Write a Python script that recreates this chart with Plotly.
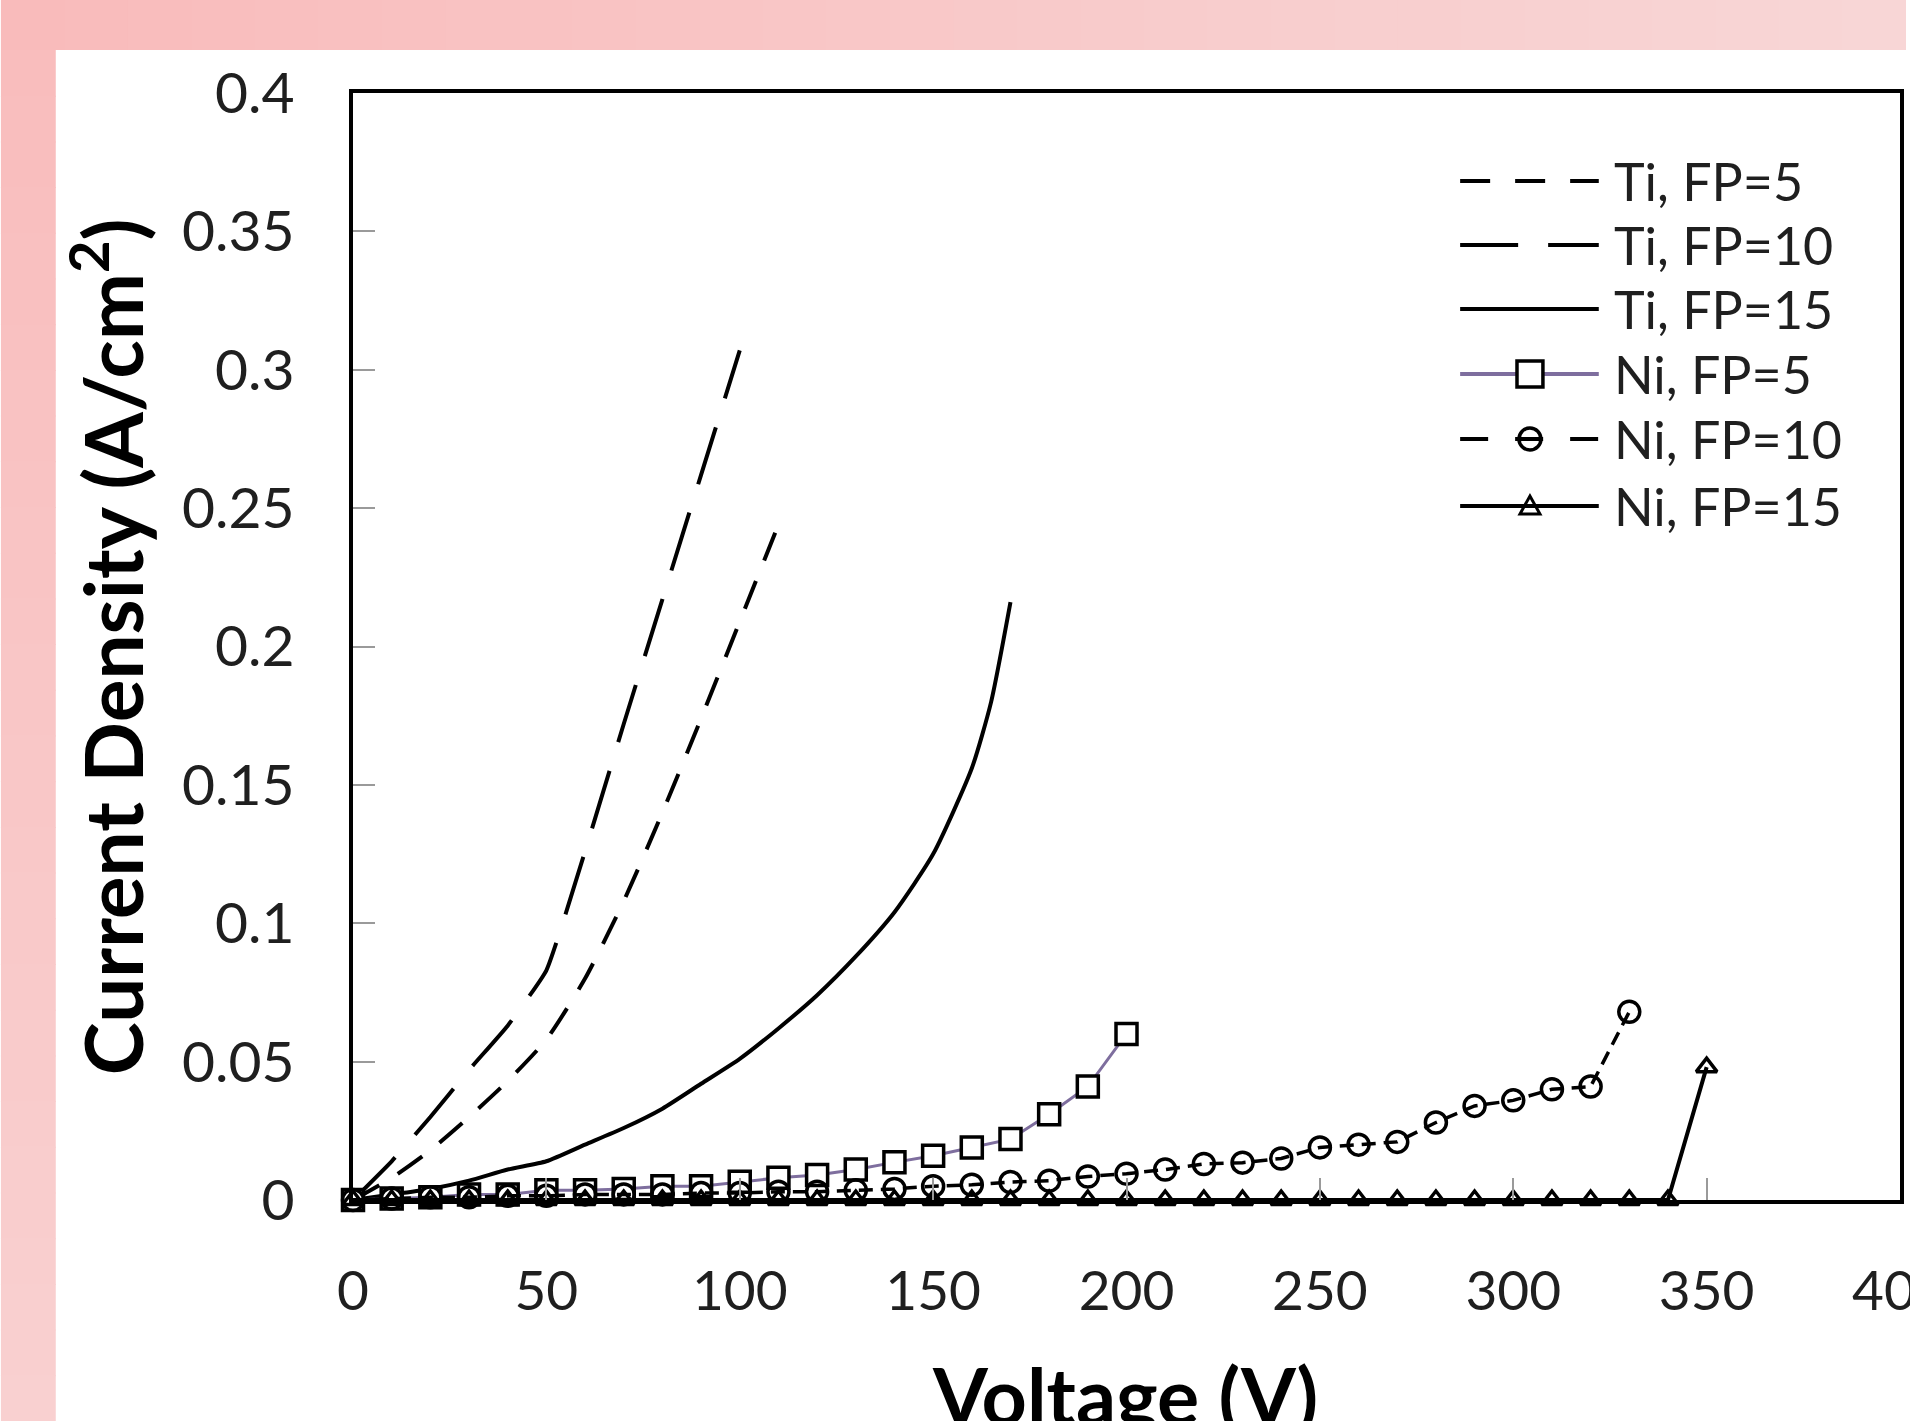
import plotly.graph_objects as go

W, H = 1910, 1421
ML, MR, MT, MB = 353, 6, 93, 221
PW = W - ML - MR
PH = H - MT - MB


def px(x):
    return (x - ML) / PW


def py(y):
    return (H - MB - y) / PH


# ---------------- data ----------------
ti5_v = [0, 10, 20, 30, 40, 50, 60, 70, 80, 90, 100, 110]
ti5_j = [0, 0.008, 0.018, 0.030, 0.043, 0.058, 0.080, 0.108, 0.140, 0.174, 0.209, 0.244]

ti10_v = [0, 10, 20, 30, 40, 50, 60, 70, 80, 90, 100]
ti10_j = [0, 0.014, 0.030, 0.047, 0.063, 0.083, 0.126, 0.172, 0.217, 0.262, 0.307]

ti15_v = [0, 10, 20, 30, 40, 50, 60, 70, 80, 90, 100, 110, 120, 130, 140, 150, 160, 165, 170]
ti15_j = [0, 0.002, 0.004, 0.007, 0.011, 0.014, 0.020, 0.026, 0.033, 0.042, 0.051,
          0.062, 0.074, 0.088, 0.104, 0.125, 0.156, 0.180, 0.216]

ni5_v = [0, 10, 20, 30, 40, 50, 60, 70, 80, 90, 100, 110, 120, 130, 140, 150, 160,
         170, 180, 190, 200]
ni5_j = [0, 0.0005, 0.001, 0.002, 0.002, 0.0035, 0.0035, 0.004, 0.005, 0.005, 0.0066,
         0.008, 0.009, 0.011, 0.0136, 0.016, 0.019, 0.022, 0.031, 0.041, 0.060]

ni10_v = [0, 10, 20, 30, 40, 50, 60, 70, 80, 90, 100, 110, 120, 130, 140, 150, 160,
          170, 180, 190, 200, 210, 220, 230, 240, 250, 260, 270, 280, 290, 300, 310,
          320, 330]
ni10_j = [0, 0.0005, 0.001, 0.001, 0.0015, 0.0015, 0.002, 0.002, 0.002, 0.0025, 0.0025,
          0.003, 0.003, 0.0035, 0.004, 0.005, 0.0055, 0.0065, 0.007, 0.0085, 0.0095,
          0.011, 0.013, 0.0135, 0.015, 0.019, 0.020, 0.021, 0.028, 0.034, 0.036, 0.040,
          0.041, 0.068]

ni15_v = [0, 10, 20, 30, 40, 50, 60, 70, 80, 90, 100, 110, 120, 130, 140, 150, 160,
          170, 180, 190, 200, 210, 220, 230, 240, 250, 260, 270, 280, 290, 300, 310,
          320, 330, 340, 350]
ni15_j = [0] * 35 + [0.048]

series_names = ["Ti, FP=5", "Ti, FP=10", "Ti, FP=15", "Ni, FP=5", "Ni, FP=10", "Ni, FP=15"]

x_ticks = [0, 50, 100, 150, 200, 250, 300, 350, 400]
y_ticks = [0, 0.05, 0.1, 0.15, 0.2, 0.25, 0.3, 0.35, 0.4]

# ---------------- styles ----------------
FONT = "Lato"
TXT = "#1f1f1f"
PURPLE = "#7E6E9E"
LW = 4
XTICK_SIZE = 55

fig = go.Figure()

fig.add_trace(go.Scatter(x=ti5_v, y=ti5_j, mode="lines", name=series_names[0],
                         line=dict(color="black", width=LW, dash="30px,22px",
                                   shape="spline", smoothing=0.6)))
fig.add_trace(go.Scatter(x=ti10_v, y=ti10_j, mode="lines", name=series_names[1],
                         line=dict(color="black", width=LW, dash="60px,30px",
                                   shape="spline", smoothing=0.4)))
fig.add_trace(go.Scatter(x=ti15_v, y=ti15_j, mode="lines", name=series_names[2],
                         line=dict(color="black", width=LW, shape="spline", smoothing=0.6)))
fig.add_trace(go.Scatter(x=ni5_v, y=ni5_j, mode="lines+markers", name=series_names[3],
                         cliponaxis=False,
                         line=dict(color=PURPLE, width=3),
                         marker=dict(symbol="square", size=21, color="white",
                                     line=dict(color="black", width=3.5))))
fig.add_trace(go.Scatter(x=ni10_v, y=ni10_j, mode="lines+markers", name=series_names[4],
                         cliponaxis=False,
                         line=dict(color="black", width=3.5, dash="14px,8px"),
                         marker=dict(symbol="circle-open", size=21, color="black",
                                     line=dict(color="black", width=3.5))))
fig.add_trace(go.Scatter(x=ni15_v, y=ni15_j, mode="lines+markers", name=series_names[5],
                         cliponaxis=False,
                         line=dict(color="black", width=LW),
                         marker=dict(symbol="triangle-up-open", size=18, color="black",
                                     line=dict(color="black", width=3.5))))

# ---------------- background (pink slide frame) ----------------
shapes = []


def lerp_color(c1, c2, t):
    a = [int(c1[i:i + 2], 16) for i in (1, 3, 5)]
    b = [int(c2[i:i + 2], 16) for i in (1, 3, 5)]
    return "#" + "".join(f"{round(a[k] + (b[k] - a[k]) * t):02x}" for k in range(3))


N = 30
for i in range(N):
    x0 = W * i / N
    x1 = min(W, W * (i + 1) / N + 1)
    shapes.append(dict(type="rect", xref="paper", yref="paper", layer="below",
                       x0=px(x0), x1=px(x1), y0=py(0), y1=py(50),
                       fillcolor=lerp_color("#F9BBBB", "#F8D6D6", i / (N - 1)),
                       line=dict(width=0)))
for i in range(N):
    y0 = 50 + (H - 50) * i / N
    y1 = min(H, 50 + (H - 50) * (i + 1) / N + 1)
    shapes.append(dict(type="rect", xref="paper", yref="paper", layer="below",
                       x0=px(0), x1=px(55), y0=py(y0), y1=py(y1),
                       fillcolor=lerp_color("#F9BDBD", "#F9D0D0", i / (N - 1)),
                       line=dict(width=0)))

# ---------------- custom legend ----------------
annotations = []
row_y = [181, 245, 309, 374, 439, 506]
lx0, lx1, ltx = 1463, 1602, 1615
leg_styles = [
    dict(color="black", width=LW, dash="30px,25px"),
    dict(color="black", width=LW, dash="58px,30px"),
    dict(color="black", width=LW, dash="solid"),
    dict(color=PURPLE, width=LW, dash="solid"),
    dict(color="black", width=LW, dash="28px,27px"),
    dict(color="black", width=LW, dash="solid"),
]
for i, name in enumerate(series_names):
    yy = py(row_y[i])
    shapes.append(dict(type="line", xref="paper", yref="paper", x0=px(lx0), x1=px(lx1),
                       y0=yy, y1=yy, line=leg_styles[i]))
    annotations.append(dict(x=px(ltx), y=yy, xref="paper", yref="paper", text=name,
                            showarrow=False, xanchor="left", yanchor="middle",
                            font=dict(family=FONT, size=52, color=TXT)))
# legend markers
cx = 1533
s = 13
yc = row_y[3]
shapes.append(dict(type="rect", xref="paper", yref="paper", x0=px(cx - s), x1=px(cx + s),
                   y0=py(yc + s), y1=py(yc - s), fillcolor="white",
                   line=dict(color="black", width=3.5)))
yc = row_y[4]
r = 11
shapes.append(dict(type="circle", xref="paper", yref="paper", x0=px(cx - r), x1=px(cx + r),
                   y0=py(yc + r), y1=py(yc - r), fillcolor="rgba(0,0,0,0)",
                   line=dict(color="black", width=3.5)))
yc = row_y[5]
t = 10
path = (f"M {px(cx - t)} {py(yc + t * 0.8)} L {px(cx + t)} {py(yc + t * 0.8)} "
        f"L {px(cx)} {py(yc - t)} Z")
shapes.append(dict(type="path", xref="paper", yref="paper", path=path,
                   fillcolor="rgba(0,0,0,0)", line=dict(color="black", width=3)))

# last x tick label, which runs past the right edge of the page (cut, as in the source)
annotations.append(dict(x=x_ticks[-1], xref="x", y=py(1289), yref="paper",
                        text=str(x_ticks[-1]), showarrow=False,
                        xanchor="center", yanchor="middle",
                        font=dict(family=FONT, size=XTICK_SIZE, color=TXT)))

# ---------------- axis titles ----------------
annotations.append(dict(x=px(1127), y=py(1394), xref="paper", yref="paper",
                        text="<b>Voltage (V)</b>", showarrow=False,
                        xanchor="center", yanchor="middle",
                        font=dict(family=FONT, size=79, color="black")))
annotations.append(dict(x=px(106), y=0.5, xref="paper", yref="paper",
                        text="<b>Current Density (A/cm<sup>2</sup>)</b>", showarrow=False,
                        textangle=-90, xanchor="center", yanchor="middle",
                        font=dict(family=FONT, size=80, color="black")))

axis_common = dict(showline=True, mirror=True, linecolor="black", linewidth=4,
                   showgrid=False, zeroline=False, ticks="inside", ticklen=22,
                   tickcolor="#9a9a9a", tickwidth=2)

fig.update_layout(
    width=W, height=H,
    margin=dict(l=ML, r=MR, t=MT, b=MB, pad=0),
    paper_bgcolor="white", plot_bgcolor="white",
    showlegend=False,
    xaxis=dict(range=[0, 400], tickvals=x_ticks, ticklabelstandoff=40,
               tickfont=dict(family=FONT, size=XTICK_SIZE, color=TXT), **axis_common),
    yaxis=dict(range=[0, 0.4], tickvals=y_ticks,
               ticktext=[f"{v:g}" for v in y_ticks], ticklabelstandoff=43,
               tickfont=dict(family=FONT, size=57, color=TXT), **axis_common),
    shapes=shapes,
    annotations=annotations,
)

fig.write_html("out.html")
